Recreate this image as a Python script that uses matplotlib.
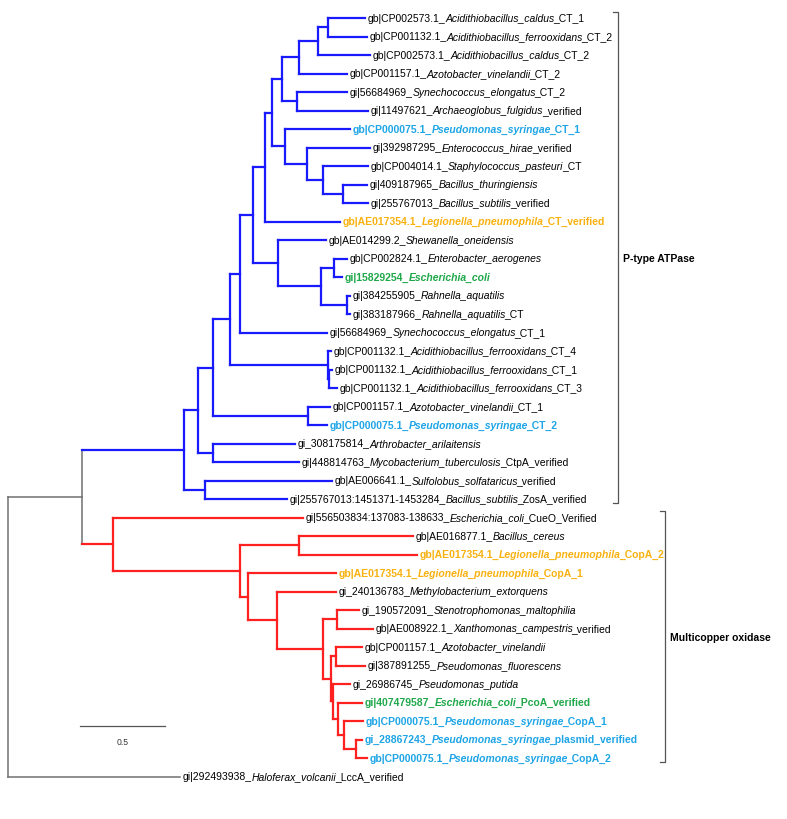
import matplotlib
matplotlib.use("Agg")
import matplotlib.pyplot as plt
from matplotlib.transforms import offset_copy

plt.rcParams['font.family'] = ['Liberation Sans', 'DejaVu Sans']

# ---------------- data ----------------
leaf_prefix = [
    "gb|CP002573.1_", "gb|CP001132.1_", "gb|CP002573.1_", "gb|CP001157.1_",
    "gi|56684969_", "gi|11497621_", "gb|CP000075.1_", "gi|392987295_",
    "gb|CP004014.1_", "gi|409187965_", "gi|255767013_", "gb|AE017354.1_",
    "gb|AE014299.2_", "gb|CP002824.1_", "gi|15829254_", "gi|384255905_",
    "gi|383187966_", "gi|56684969_", "gb|CP001132.1_", "gb|CP001132.1_",
    "gb|CP001132.1_", "gb|CP001157.1_", "gb|CP000075.1_", "gi_308175814_",
    "gi|448814763_", "gb|AE006641.1_", "gi|255767013:1451371-1453284_",
    "gi|556503834:137083-138633_", "gb|AE016877.1_", "gb|AE017354.1_",
    "gb|AE017354.1_", "gi_240136783_", "gi_190572091_", "gb|AE008922.1_",
    "gb|CP001157.1_", "gi|387891255_", "gi_26986745_", "gi|407479587_",
    "gb|CP000075.1_", "gi_28867243_", "gb|CP000075.1_", "gi|292493938_",
]
leaf_species = [
    "Acidithiobacillus_caldus", "Acidithiobacillus_ferrooxidans", "Acidithiobacillus_caldus",
    "Azotobacter_vinelandii", "Synechococcus_elongatus", "Archaeoglobus_fulgidus",
    "Pseudomonas_syringae", "Enterococcus_hirae", "Staphylococcus_pasteuri",
    "Bacillus_thuringiensis", "Bacillus_subtilis", "Legionella_pneumophila",
    "Shewanella_oneidensis", "Enterobacter_aerogenes", "Escherichia_coli",
    "Rahnella_aquatilis", "Rahnella_aquatilis", "Synechococcus_elongatus",
    "Acidithiobacillus_ferrooxidans", "Acidithiobacillus_ferrooxidans",
    "Acidithiobacillus_ferrooxidans", "Azotobacter_vinelandii", "Pseudomonas_syringae",
    "Arthrobacter_arilaitensis", "Mycobacterium_tuberculosis", "Sulfolobus_solfataricus",
    "Bacillus_subtilis", "Escherichia_coli", "Bacillus_cereus", "Legionella_pneumophila",
    "Legionella_pneumophila", "Methylobacterium_extorquens", "Stenotrophomonas_maltophilia",
    "Xanthomonas_campestris", "Azotobacter_vinelandii", "Pseudomonas_fluorescens",
    "Pseudomonas_putida", "Escherichia_coli", "Pseudomonas_syringae",
    "Pseudomonas_syringae", "Pseudomonas_syringae", "Haloferax_volcanii",
]
leaf_suffix = [
    "_CT_1", "_CT_2", "_CT_2", "_CT_2", "_CT_2", "_verified", "_CT_1", "_verified",
    "_CT", "", "_verified", "_CT_verified", "", "", "", "", "_CT", "_CT_1",
    "_CT_4", "_CT_1", "_CT_3", "_CT_1", "_CT_2", "", "_CtpA_verified", "_verified",
    "_ZosA_verified", "_CueO_Verified", "", "_CopA_2", "_CopA_1", "", "", "_verified",
    "", "", "", "_PcoA_verified", "_CopA_1", "_plasmid_verified", "_CopA_2",
    "_LccA_verified",
]
# highlight group: 0 none, 1 P. syringae (blue), 2 L. pneumophila (orange), 3 E. coli (green)
leaf_group = [0, 0, 0, 0, 0, 0, 1, 0, 0, 0, 0, 2, 0, 0, 3, 0, 0, 0, 0, 0, 0, 0, 1,
              0, 0, 0, 0, 0, 0, 2, 2, 0, 0, 0, 0, 0, 0, 3, 1, 1, 1, 0]
# distance from root of each tip
leaf_depth = [2.100, 2.112, 2.129, 1.994, 1.994, 2.118, 2.012, 2.129, 2.118, 2.112,
              2.118, 1.953, 1.871, 1.994, 1.965, 2.012, 2.012, 1.876, 1.900, 1.906,
              1.935, 1.894, 1.876, 1.688, 1.712, 1.906, 1.641, 1.735, 2.382, 2.406,
              1.929, 1.929, 2.065, 2.147, 2.082, 2.100, 2.012, 2.082, 2.088, 2.082,
              2.112, 1.012]
# clade of each tip: 'b' P-type ATPase, 'r' multicopper oxidase, 'g' outgroup
leaf_clade = ['b'] * 27 + ['r'] * 14 + ['g']

# internal nodes: children (ints = tips), depth, clade
node_names = ["na", "nb", "nc", "nd", "ne", "nf", "ng", "nh", "ni", "nj", "nk", "nl",
              "nm", "nn", "no", "np", "nq", "nr", "ns", "nt", "nu", "nv", "nw", "nx",
              "ny", "nz", "ma", "mb", "mc", "md", "me", "mf", "mg", "mh", "mi", "mj",
              "mk", "ml", "mm", "A", "root"]
node_children = [
    [0, 1], ["na", 2], ["nb", 3], [4, 5], ["nc", "nd"], [9, 10], [8, "nf"], [7, "ng"],
    [6, "nh"], ["ne", "ni"], ["nj", 11], [13, 14], [15, 16], ["nl", "nm"], [12, "nn"],
    ["nk", "no"], ["np", 17], [19, 20], [18, "nr"], ["nq", "ns"], [21, 22], ["nt", "nu"],
    [23, 24], ["nv", "nw"], [25, 26], ["nx", "ny"],
    [28, 29], [32, 33], [34, 35], [39, 40], [38, "md"], [37, "me"], [36, "mf"],
    ["mc", "mg"], ["mb", "mh"], [31, "mi"], [30, "mj"], ["ma", "mk"], [27, "ml"],
    ["nz", "mm"], ["A", 41],
]
node_depth = [1.882, 1.824, 1.712, 1.700, 1.612, 1.971, 1.853, 1.759, 1.629, 1.553,
              1.512, 1.918, 1.994, 1.841, 1.588, 1.441, 1.365, 1.888, 1.882, 1.306,
              1.765, 1.206, 1.206, 1.115, 1.159, 1.035,
              1.712, 1.935, 1.929, 2.047, 1.976, 1.941, 1.912, 1.900, 1.853, 1.582,
              1.412, 1.365, 0.618, 0.435, 0.0]
node_clade = ['b'] * 26 + ['r'] * 13 + ['g', 'g']

clade_labels = ["P-type ATPase", "Multicopper oxidase"]
clade_ranges = [(0, 26), (27, 40)]
scale_length = 0.5

# ---------------- styling ----------------
branch_color = {'b': '#1a1aff', 'r': '#ff2020', 'g': '#707070'}
branch_lw = {'b': 1.6, 'r': 1.6, 'g': 1.1}
text_color = {0: '#000000', 1: '#1ea5e6', 2: '#f9b10f', 3: '#1fa84a'}
FS = 7.45
PX = 170.0      # pixels per branch-length unit
X0 = 8.0        # pixel of root
Y0, DY = 18.0, 18.5

W, H = 787, 819
fig = plt.figure(figsize=(W / 100, H / 100), dpi=100)
ax = fig.add_axes([0, 0, 1, 1])
ax.set_xlim(-X0 / PX, (W - X0) / PX)
ax.set_ylim((H - Y0) / DY, -Y0 / DY)
ax.axis('off')

idx = {n: i for i, n in enumerate(node_names)}
ypos = {}


def get_y(c):
    if isinstance(c, int):
        return float(c)
    if c in ypos:
        return ypos[c]
    ys = [get_y(k) for k in node_children[idx[c]]]
    ypos[c] = (min(ys) + max(ys)) / 2
    return ypos[c]


def get_x(c):
    return leaf_depth[c] if isinstance(c, int) else node_depth[idx[c]]


def get_clade(c):
    return leaf_clade[c] if isinstance(c, int) else node_clade[idx[c]]


for n in node_names:
    i = idx[n]
    px = node_depth[i]
    kids = node_children[i]
    ys = [get_y(k) for k in kids]
    cl = node_clade[i]
    ax.plot([px, px], [min(ys), max(ys)], color=branch_color[cl], lw=branch_lw[cl],
            solid_capstyle='projecting', zorder=2)
    for k in kids:
        ck = get_clade(k)
        ax.plot([px, get_x(k)], [get_y(k), get_y(k)], color=branch_color[ck],
                lw=branch_lw[ck], solid_capstyle='projecting', zorder=2)

# tip labels, drawn piecewise (regular / italic / regular)
fig.canvas.draw()
renderer = fig.canvas.get_renderer()


def text_w(s, weight, style):
    t = ax.text(0, 0, s, fontsize=FS, fontweight=weight, fontstyle=style)
    w = t.get_window_extent(renderer).width
    t.remove()
    return w


def advance(s, weight, style):
    # pen advance of s, independent of ink bearings
    return text_w(s + "H", weight, style) - text_w("H", weight, style)


for i in range(len(leaf_prefix)):
    g = leaf_group[i]
    weight = 'bold' if g else 'normal'
    col = text_color[g]
    dx = 2.5
    for s, style in ((leaf_prefix[i], 'normal'), (leaf_species[i], 'italic'),
                     (leaf_suffix[i], 'normal')):
        if not s:
            continue
        tr = offset_copy(ax.transData, fig=fig, x=dx, y=-3.6, units='dots')
        ax.text(leaf_depth[i], i, s, transform=tr, fontsize=FS, color=col,
                fontweight=weight, fontstyle=style, va='baseline', ha='left')
        dx += advance(s, weight, style)
        if style == 'italic':
            dx -= 1.5

# clade brackets
bx = [(618 - X0) / PX, (665 - X0) / PX]
tick = 5 / PX
for lab, (a, b), x in zip(clade_labels, clade_ranges, bx):
    ya, yb = a - 0.35, b + 0.2
    ax.plot([x - tick, x, x, x - tick], [ya, ya, yb, yb], color='#555555', lw=0.9,
            zorder=2)
    ax.text(x + 5 / PX, (a + b) / 2, lab, fontsize=FS, fontweight='bold',
            va='center', ha='left', color='black')

# scale bar
sx = (80 - X0) / PX
sy = (726 - Y0) / DY
ax.plot([sx, sx + scale_length], [sy, sy], color='#555555', lw=0.9)
ax.text(sx + scale_length / 2, sy + 0.9, f"{scale_length}", fontsize=FS - 1.2,
        ha='center', va='center', color='#333333')

fig.savefig("out.png", dpi=100)
